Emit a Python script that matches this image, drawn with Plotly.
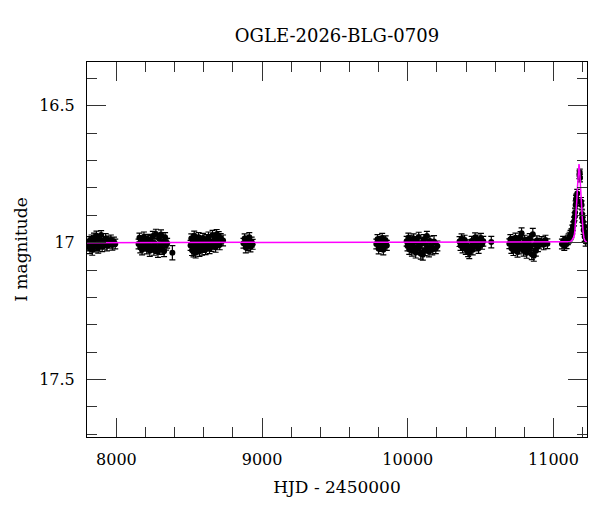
import plotly.graph_objects as go

# OGLE photometry, read season by season (HJD - 2450000, I mag, error)
t_s1 = [7806, 7812, 7818, 7823, 7829, 7834, 7840, 7846, 7851, 7857, 7863, 7869, 7875, 7882,
        7888, 7895, 7902, 7910, 7918, 7926, 7935, 7944, 7953, 7962, 7972, 7983, 7992]
m_s1 = [17.012, 16.995, 17.021, 17.004, 16.988, 17.026, 17.008, 16.982, 17.015, 16.998, 16.975,
        17.010, 17.019, 16.990, 17.003, 16.972, 17.014, 16.996, 17.007, 16.985, 17.011, 16.993,
        17.002, 16.989, 17.009, 16.997, 17.005]
e_s1 = [0.018, 0.017, 0.019, 0.018, 0.016, 0.020, 0.018, 0.017, 0.019, 0.018, 0.017, 0.018, 0.019,
        0.017, 0.018, 0.016, 0.019, 0.018, 0.017, 0.018, 0.019, 0.017, 0.018, 0.017, 0.018, 0.017,
        0.018]

t_s2 = [8152, 8158, 8164, 8170, 8176, 8182, 8189, 8195, 8201, 8208, 8215, 8222, 8229, 8236, 8243,
        8250, 8257, 8264, 8271, 8278, 8285, 8292, 8299, 8306, 8313, 8320, 8327, 8334, 8341, 8348,
        8384]
m_s2 = [17.005, 16.982, 17.018, 16.993, 17.026, 17.001, 16.978, 17.012, 16.996, 17.022, 16.987,
        17.008, 17.030, 16.991, 17.015, 16.976, 17.027, 17.003, 16.968, 17.020, 17.034, 16.985,
        17.011, 16.970, 17.024, 16.998, 17.031, 16.980, 17.009, 17.002, 17.037]
e_s2 = [0.018, 0.017, 0.019, 0.018, 0.019, 0.018, 0.017, 0.018, 0.018, 0.019, 0.017, 0.018, 0.020,
        0.017, 0.018, 0.017, 0.019, 0.018, 0.017, 0.019, 0.020, 0.018, 0.018, 0.017, 0.019, 0.018,
        0.020, 0.017, 0.018, 0.018, 0.026]

t_s3 = [8509, 8514, 8519, 8524, 8529, 8534, 8539, 8544, 8549, 8554, 8559, 8564, 8570, 8576, 8582,
        8588, 8594, 8600, 8606, 8612, 8618, 8625, 8632, 8639, 8646, 8653, 8660, 8667, 8674, 8681,
        8688, 8695, 8702, 8709, 8716, 8732]
m_s3 = [17.010, 16.985, 17.028, 16.998, 17.033, 16.975, 17.015, 17.036, 16.990, 17.022, 17.004,
        16.980, 17.031, 17.012, 16.994, 17.027, 16.983, 17.018, 17.002, 17.025, 16.988, 17.010,
        16.978, 17.021, 16.996, 17.014, 16.972, 17.006, 16.986, 17.017, 16.969, 16.999, 16.977,
        17.008, 16.984, 16.992]
e_s3 = [0.018, 0.017, 0.019, 0.018, 0.019, 0.017, 0.018, 0.020, 0.017, 0.019, 0.018, 0.017, 0.019,
        0.018, 0.017, 0.019, 0.017, 0.018, 0.018, 0.019, 0.017, 0.018, 0.017, 0.019, 0.018, 0.018,
        0.017, 0.018, 0.017, 0.018, 0.017, 0.018, 0.017, 0.018, 0.017, 0.020]

t_s4 = [8872, 8880, 8888, 8896, 8904, 8912, 8920, 8928, 8935]
m_s4 = [17.002, 16.985, 17.018, 16.994, 17.010, 16.980, 17.015, 16.998, 17.006]
e_s4 = [0.018, 0.017, 0.019, 0.018, 0.018, 0.017, 0.019, 0.018, 0.018]

t_s5 = [9784, 9792, 9800, 9808, 9816, 9824, 9832, 9840, 9848, 9856]
m_s5 = [17.005, 16.988, 17.022, 16.996, 17.014, 16.983, 17.026, 17.001, 16.992, 17.010]
e_s5 = [0.018, 0.017, 0.019, 0.018, 0.018, 0.017, 0.019, 0.018, 0.017, 0.018]

t_s6 = [9992, 9998, 10004, 10010, 10016, 10022, 10028, 10034, 10040, 10047, 10054, 10061, 10068,
        10075, 10082, 10089, 10096, 10103, 10110, 10117, 10124, 10131, 10138, 10145, 10152, 10160,
        10168, 10180, 10192, 10203]
m_s6 = [16.995, 17.012, 16.982, 17.024, 17.003, 16.990, 17.030, 17.008, 16.985, 17.018, 17.036,
        16.997, 17.022, 16.979, 17.011, 17.040, 17.002, 17.044, 16.988, 17.028, 17.006, 16.976,
        17.019, 17.033, 16.994, 17.013, 17.026, 16.996, 17.021, 17.012]
e_s6 = [0.018, 0.018, 0.017, 0.019, 0.018, 0.017, 0.019, 0.018, 0.017, 0.018, 0.020, 0.018, 0.019,
        0.017, 0.018, 0.020, 0.018, 0.020, 0.017, 0.019, 0.018, 0.017, 0.018, 0.019, 0.018, 0.018,
        0.019, 0.022, 0.019, 0.018]

t_s7 = [10355, 10362, 10369, 10376, 10383, 10390, 10398, 10406, 10414, 10422, 10430, 10438, 10446,
        10454, 10462, 10470, 10478, 10486, 10494, 10502, 10510, 10518, 10573]
m_s7 = [16.996, 17.010, 16.985, 17.018, 17.002, 16.990, 17.024, 17.008, 17.032, 17.038, 17.015,
        16.994, 17.026, 17.004, 16.981, 17.012, 16.989, 17.020, 16.998, 16.983, 17.006, 16.995,
        16.998]
e_s7 = [0.018, 0.018, 0.017, 0.019, 0.018, 0.017, 0.019, 0.018, 0.019, 0.020, 0.018, 0.017, 0.019,
        0.018, 0.017, 0.018, 0.017, 0.019, 0.018, 0.017, 0.018, 0.018, 0.021]

t_s8 = [10697, 10704, 10711, 10718, 10725, 10732, 10739, 10746, 10753, 10760, 10767, 10774, 10781,
        10788, 10795, 10802, 10809, 10816, 10823, 10830, 10837, 10844, 10851, 10858, 10865, 10872,
        10879, 10886, 10893, 10900, 10920, 10932, 10945, 10958]
m_s8 = [17.004, 16.988, 17.020, 16.996, 17.028, 17.010, 16.982, 17.015, 17.034, 16.993, 17.022,
        16.978, 16.966, 17.006, 17.030, 16.990, 17.018, 17.037, 16.999, 17.025, 16.984, 17.012,
        17.042, 16.969, 17.048, 17.008, 17.030, 16.992, 17.015, 17.002, 16.996, 17.008, 16.990,
        17.004]
e_s8 = [0.018, 0.017, 0.019, 0.018, 0.019, 0.018, 0.017, 0.018, 0.019, 0.017, 0.019, 0.018, 0.020,
        0.018, 0.019, 0.017, 0.018, 0.020, 0.018, 0.019, 0.017, 0.018, 0.020, 0.021, 0.020, 0.018,
        0.019, 0.017, 0.018, 0.018, 0.018, 0.018, 0.017, 0.018]

t_s9 = [11058, 11066, 11074, 11082, 11090, 11098, 11104, 11111, 11117, 11123, 11129, 11134, 11141,
        11145, 11148, 11152, 11155, 11157, 11161, 11163, 11178, 11180, 11182, 11189, 11193, 11196,
        11198, 11202, 11207, 11211, 11214, 11218, 11221, 11225]
m_s9 = [17.005, 16.994, 17.010, 16.998, 17.004, 16.990, 16.985, 16.978, 16.972, 16.966, 16.952,
        16.940, 16.923, 16.905, 16.890, 16.862, 16.842, 16.838, 16.850, 16.820, 16.752, 16.745,
        16.764, 16.850, 16.862, 16.895, 16.910, 16.923, 16.954, 16.940, 16.978, 16.962, 16.996,
        16.985]
e_s9 = [0.018, 0.017, 0.018, 0.017, 0.018, 0.017, 0.017, 0.016, 0.017, 0.016, 0.016, 0.016, 0.016,
        0.015, 0.016, 0.015, 0.015, 0.015, 0.015, 0.015, 0.014, 0.014, 0.014, 0.015, 0.015, 0.015,
        0.016, 0.016, 0.016, 0.016, 0.017, 0.017, 0.017, 0.018]

# microlensing model curve (magenta)
model_t = [7798, 11090, 11110, 11125, 11135, 11141, 11147, 11152, 11157, 11161, 11165, 11168,
           11171, 11173, 11175, 11177, 11179, 11182, 11185, 11189, 11193, 11198, 11203, 11209,
           11215, 11225, 11230]
model_m = [17.000, 16.999, 16.997, 16.993, 16.986, 16.978, 16.957, 16.923, 16.880, 16.838, 16.795,
           16.763, 16.735, 16.720, 16.713, 16.720, 16.735, 16.763, 16.795, 16.845, 16.885, 16.930,
           16.960, 16.982, 16.992, 16.997, 16.998]

t_all = t_s1 + t_s2 + t_s3 + t_s4 + t_s5 + t_s6 + t_s7 + t_s8 + t_s9
m_all = m_s1 + m_s2 + m_s3 + m_s4 + m_s5 + m_s6 + m_s7 + m_s8 + m_s9
e_all = e_s1 + e_s2 + e_s3 + e_s4 + e_s5 + e_s6 + e_s7 + e_s8 + e_s9

serif = "DejaVu Serif"

fig = go.Figure()
fig.add_trace(go.Scatter(
    x=t_all, y=m_all, mode="markers",
    marker=dict(color="black", size=6),
    error_y=dict(type="data", array=e_all, visible=True, color="black", thickness=1.2, width=3),
    showlegend=False))
fig.add_trace(go.Scatter(
    x=model_t, y=model_m, mode="lines",
    line=dict(color="#ff00ff", width=1.5),
    showlegend=False))

axis_common = dict(
    showline=True, linecolor="black", linewidth=1, mirror="ticks",
    ticks="inside", ticklen=19, tickwidth=1, tickcolor="#333",
    showgrid=False, zeroline=False, automargin=False,
    tickfont=dict(family=serif, size=16, color="black"),
)

fig.update_xaxes(
    range=[7798, 11230], dtick=1000, tick0=8000, tickformat="d",
    minor=dict(dtick=200, ticklen=10, tickcolor="#333", ticks="inside"),
    title=dict(text="HJD - 2450000", font=dict(family=serif, size=17, color="black"), standoff=12),
    ticklabelstandoff=8,
    **axis_common)
fig.update_yaxes(
    range=[17.71, 16.34], dtick=0.5, tick0=16.5,
    minor=dict(dtick=0.1, ticklen=10, tickcolor="#333", ticks="inside"),
    title=dict(text="I magnitude", font=dict(family=serif, size=17, color="black"), standoff=7),
    ticklabelstandoff=8,
    **axis_common)

# the page body adds an 8px offset, so the margins are shifted to keep the frame in place
fig.update_layout(
    width=600, height=512,
    margin=dict(l=79, r=21, t=54, b=83),
    plot_bgcolor="white", paper_bgcolor="white",
    title=dict(text="OGLE-2026-BLG-0709", x=0.5, xref="paper", y=1 - 28 / 512, yanchor="middle",
               font=dict(family=serif, size=18, color="black")),
)

fig.write_html("out.html")
